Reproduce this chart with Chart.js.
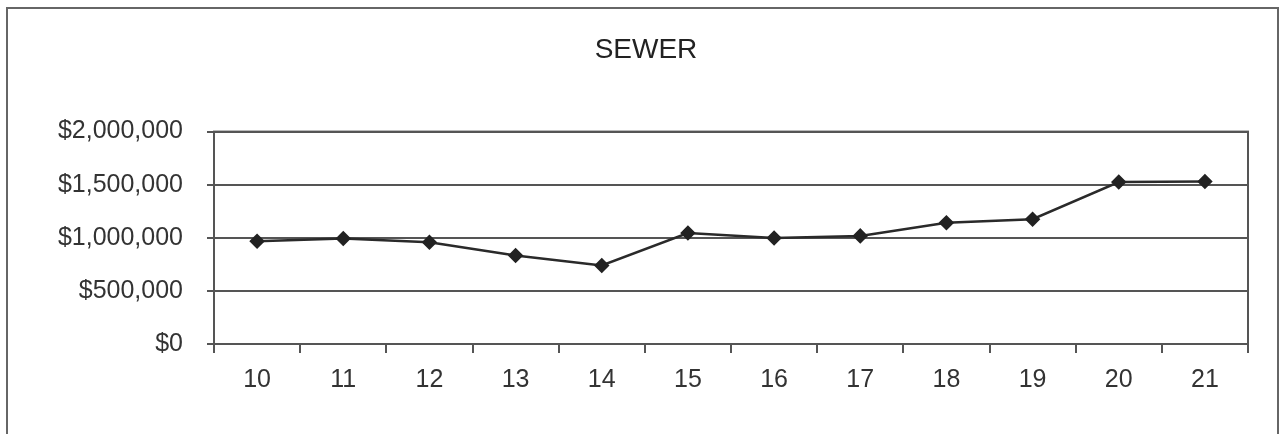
<!DOCTYPE html>
<html>
<head>
<meta charset="utf-8">
<script src="https://cdn.jsdelivr.net/npm/chart.js@4/dist/chart.umd.min.js"></script>
<style>
	body { margin: 0; background: #fff; overflow: hidden; }
	#wrap { position: relative; width: 1279px; height: 434px; }
	#frame { position: absolute; left: 6px; top: 7px; width: 1269px; height: 460px; border: 2px solid #666; pointer-events: none; }
</style>
</head>
<body>
<div id="wrap">
	<canvas id="sewerChart" width="1279" height="434"></canvas>
	<div id="frame"></div>
</div>
<script>
// 연도별 하수도 비용
var years = ["10", "11", "12", "13", "14", "15", "16", "17", "18", "19", "20", "21"];
var sewerCost = [968000, 993000, 958000, 833000, 739000, 1045000, 998000, 1018000, 1142000, 1175000, 1525000, 1530000];
var yTicks = [0, 500000, 1000000, 1500000, 2000000];

var lineColor = "#2a2a2a";
var gridColor = "#555";
var textColor = "#333";

// 플롯 테두리 (상단, 우측)
var boxBorder = {
	id: "boxBorder",
	afterDraw: function(chart){
		var a = chart.chartArea;
		var ctx = chart.ctx;
		ctx.save();
		ctx.strokeStyle = gridColor;
		ctx.lineWidth = 2;
		ctx.strokeRect(a.left, a.top, a.right - a.left, a.bottom - a.top);
		ctx.restore();
	}
};

Chart.defaults.font.family = "'Liberation Sans', Arial, sans-serif";
Chart.defaults.color = textColor;

var myChart = new Chart(document.getElementById("sewerChart"), {
	type: "line",
	data: {
		labels: years,
		datasets: [{
			label: "SEWER",
			data: sewerCost,
			borderColor: lineColor,
			backgroundColor: lineColor,
			borderWidth: 2.5,
			pointStyle: "rectRot",
			pointRadius: 6,
			pointBackgroundColor: "#222",
			pointBorderColor: "#222",
			tension: 0,
			fill: false
		}]
	},
	options: {
		responsive: false,
		animation: false,
		layout: {padding: {left: 13, right: 0, top: 0, bottom: 0}},
		plugins: {
			legend: {display: false},
			tooltip: {enabled: false},
			title: {
				display: true,
				text: "SEWER",
				color: "#222",
				font: {size: 28, weight: "normal"},
				padding: {top: 33, bottom: 65}
			}
		},
		scales: {
			x: {
				offset: true,
				grid: {offset: true, drawOnChartArea: false, drawTicks: true, tickLength: 9, color: gridColor, lineWidth: 2},
				border: {display: true, color: gridColor, width: 2},
				ticks: {font: {size: 25}, color: textColor, padding: 12, maxRotation: 0},
				afterFit: function(scale){ scale.height = 90; }
			},
			y: {
				min: 0,
				max: 2000000,
				afterBuildTicks: function(scale){
					scale.ticks = yTicks.map(function(v){ return {value: v}; });
				},
				grid: {color: gridColor, lineWidth: 2, tickLength: 7},
				border: {display: true, color: gridColor, width: 2},
				ticks: {
					font: {size: 25},
					color: textColor,
					padding: 24,
					callback: function(v){ return "$" + Number(v).toLocaleString("en-US"); }
				},
				afterFit: function(scale){ scale.width = 201; }
			},
			// 우측 여백용 빈 축
			yPad: {
				position: "right",
				display: true,
				grid: {display: false},
				border: {display: false},
				ticks: {display: false},
				afterFit: function(scale){ scale.width = 31; }
			}
		}
	},
	plugins: [boxBorder]
});
</script>
</body>
</html>
